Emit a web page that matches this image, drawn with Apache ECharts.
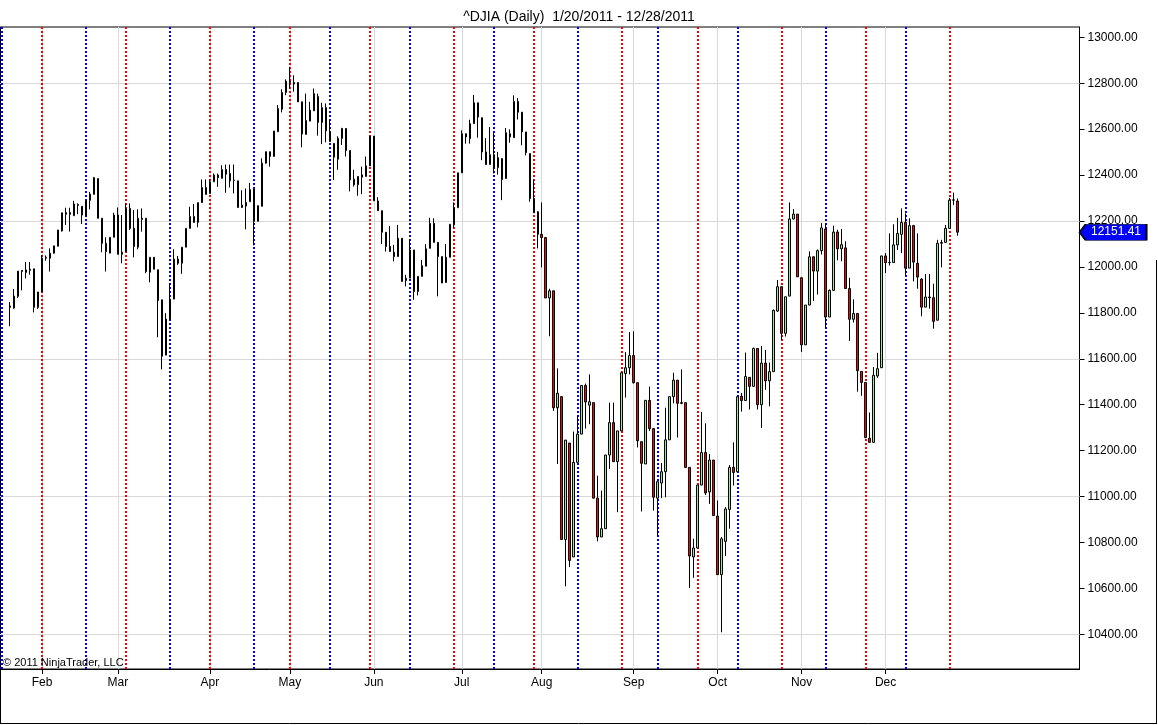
<!DOCTYPE html>
<html><head><meta charset="utf-8">
<script src="https://cdn.jsdelivr.net/npm/echarts@6/dist/echarts.min.js"></script>
<style>html,body{margin:0;padding:0;background:#fff}#c{width:1158px;height:725px}</style>
</head><body><div id="c"></div>
<script>
// Trading days of 2011 shown on the chart (day of month, per month)
const janDays=[20,21,24,25,26,27,28,31];
const febDays=[1,2,3,4,7,8,9,10,11,14,15,16,17,18,22,23,24,25,28];
const marDays=[1,2,3,4,7,8,9,10,11,14,15,16,17,18,21,22,23,24,25,28,29,30,31];
const aprDays=[1,4,5,6,7,8,11,12,13,14,15,18,19,20,21,25,26,27,28,29];
const mayDays=[2,3,4,5,6,9,10,11,12,13,16,17,18,19,20,23,24,25,26,27,31];
const junDays=[1,2,3,6,7,8,9,10,13,14,15,16,17,20,21,22,23,24,27,28,29,30];
const julDays=[1,5,6,7,8,11,12,13,14,15,18,19,20,21,22,25,26,27,28,29];
const augDays=[1,2,3,4,5,8,9,10,11,12,15,16,17,18,19,22,23,24,25,26,29,30,31];
const sepDays=[1,2,6,7,8,9,12,13,14,15,16,19,20,21,22,23,26,27,28,29,30];
const octDays=[3,4,5,6,7,10,11,12,13,14,17,18,19,20,21,24,25,26,27,28,31];
const novDays=[1,2,3,4,7,8,9,10,11,14,15,16,17,18,21,22,23,25,28,29,30];
const decDays=[1,2,5,6,7,8,9,12,13,14,15,16,19,20,21,22,23,27,28];
const monthNames=['Jan','Feb','Mar','Apr','May','Jun','Jul','Aug','Sep','Oct','Nov','Dec'];

const opens=[11830,11821,11872,11980,11976,11985,11992,11824,11891,12038,
12038,12060,12090,12157,12229,12229,12223,12268,12264,12219,
12290,12316,12385,12212,12103,12060,12129,12226,12055,12067,
12255,12168,12086,12212,12212,11977,12042,11988,11857,11616,
11773,11860,12034,12016,12086,12168,12220,12194,12280,12346,
12320,12371,12400,12386,12424,12407,12377,12375,12269,12265,
12284,12340,12199,12264,12452,12502,12481,12589,12687,12760,
12809,12803,12803,12719,12577,12635,12680,12742,12629,12694,
12590,12538,12469,12560,12603,12507,12382,12358,12391,12394,
12440,12570,12287,12245,12151,12089,12064,12045,12125,11941,
11951,12074,11893,11959,12003,12081,12190,12107,12045,11932,
12042,12183,12258,12410,12580,12559,12624,12715,12650,12501,
12446,12489,12433,12472,12385,12580,12563,12721,12674,12588,
12494,12298,12240,12142,12128,11865,11896,11387,11435,10813,
11233,10737,11149,11272,11484,11398,11409,10993,10824,10860,
11181,11322,11152,11286,11536,11561,11614,11496,11239,11142,
11419,11296,10993,11059,11108,11247,11435,11507,11409,11409,
11127,10737,10776,11050,11192,11020,11159,10915,10660,10805,
10944,11127,11108,11437,11418,11519,11480,11645,11400,11581,
11504,11544,11808,11914,11711,11873,12209,12230,11953,11661,
11834,12044,11982,12071,12165,11782,11898,12152,12079,12083,
11906,11772,11797,11545,11497,11254,11236,11525,11561,12048,
12020,12019,12096,12142,12194,11995,12180,12016,11947,11825,
11869,11866,11768,12103,12107,12168,12291,12287];
const closes=[11824,11873,11982,11985,11987,11990,11824,11891,12038,12042,
12060,12092,12161,12236,12237,12237,12274,12272,12226,12290,
12317,12389,12212,12103,12067,12129,12226,12055,12064,12255,
12168,12089,12212,12207,11980,12042,11990,11854,11611,11773,
11860,12034,12016,12086,12168,12220,12194,12280,12346,12316,
12371,12400,12389,12424,12404,12375,12378,12259,12259,12281,
12337,12199,12267,12452,12502,12481,12592,12690,12760,12809,
12803,12797,12719,12579,12638,12683,12755,12629,12694,12593,
12546,12478,12560,12603,12507,12379,12358,12394,12401,12440,
12570,12288,12245,12151,12089,12067,12045,12125,11937,11951,
12074,11893,11959,12005,12079,12190,12107,12045,11930,12042,
12186,12258,12410,12580,12566,12624,12715,12653,12501,12446,
12489,12433,12476,12381,12585,12566,12721,12674,12588,12498,
12298,12236,12142,12128,11865,11896,11387,11450,10813,11246,
10722,11149,11272,11484,11412,11413,10993,10824,10860,11181,
11322,11152,11286,11539,11561,11614,11496,11243,11145,11419,
11296,10997,11065,11108,11247,11435,11507,11406,11406,11127,
10741,10776,11050,11192,11016,11159,10917,10660,10816,10946,
11127,11105,11435,11418,11523,11480,11645,11400,11581,11504,
11544,11811,11914,11711,11870,12209,12230,11957,11661,11834,
12044,11982,12071,12170,11782,11898,12152,12079,12097,11906,
11772,11797,11548,11497,11257,11236,11528,11557,12048,12019,
12019,12096,12146,12194,11995,12180,12021,11956,11825,11869,
11866,11763,12103,12106,12168,12291,12292,12151.41];
const lows=[11742,11818,11865,11898,11950,11966,11802,11817,11891,12027,
11980,12058,12090,12154,12183,12154,12223,12230,12187,12219,
12251,12316,12212,12064,11980,12060,12129,12055,12016,12067,
12161,12042,12077,12154,11973,11933,11990,11694,11554,11616,
11770,11860,12009,11970,12086,12168,12194,12173,12280,12316,
12320,12371,12349,12386,12323,12346,12320,12259,12259,12164,
12284,12094,12199,12264,12450,12437,12481,12589,12673,12748,
12777,12763,12719,12521,12577,12635,12680,12572,12535,12543,
12546,12379,12423,12531,12481,12329,12350,12310,12317,12394,
12440,12288,12245,12100,12067,12067,12024,12045,11937,11915,
11951,11857,11876,11959,12003,12081,12107,11872,11930,11932,
12042,12171,12258,12410,12537,12537,12624,12563,12465,12446,
12446,12407,12402,12291,12385,12541,12563,12642,12530,12486,
12284,12236,12081,11998,11865,11698,11373,11142,10813,10609,
10693,10737,11149,11272,11296,11315,10993,10805,10824,10860,
11120,11152,10932,11286,11431,11532,11492,11214,10935,11142,
11286,10939,10828,10993,10997,11247,11406,11257,11402,11124,
10602,10646,10776,11050,11007,10968,10917,10660,10409,10741,
10860,11048,11108,11370,11418,11379,11480,11379,11299,11465,
11393,11544,11804,11682,11697,11873,12207,11957,11630,11661,
11834,11852,11880,12054,11736,11782,11898,12029,12025,11906,
11678,11758,11457,11439,11254,11236,11236,11517,11561,11973,
12006,12019,12074,12060,11963,11995,11937,11905,11785,11825,
11818,11731,11768,11998,12107,12168,12269,12136];
const highs=[11847,11904,11982,11985,12022,12022,11992,11891,12052,12050,
12081,12092,12161,12236,12258,12258,12288,12277,12264,12290,
12327,12392,12385,12212,12129,12129,12236,12259,12226,12277,
12277,12248,12251,12255,12212,12042,12042,11988,11857,11799,
11930,12077,12048,12086,12168,12262,12274,12280,12381,12381,
12381,12407,12407,12443,12446,12446,12446,12375,12334,12342,
12366,12340,12267,12473,12502,12502,12592,12705,12774,12817,
12871,12835,12803,12719,12755,12719,12777,12755,12715,12712,
12640,12538,12569,12606,12603,12507,12423,12394,12437,12481,
12570,12570,12304,12245,12151,12178,12096,12183,12125,11966,
12122,12074,11959,12031,12099,12214,12212,12107,12045,12099,
12186,12281,12410,12595,12582,12641,12749,12715,12650,12561,
12609,12583,12501,12472,12605,12599,12747,12735,12674,12588,
12494,12381,12243,12281,12128,11905,11896,11558,11435,11246,
11233,11283,11354,11484,11492,11532,11409,11091,11026,11181,
11409,11409,11286,11539,11629,11716,11720,11496,11239,11419,
11479,11296,11065,11146,11387,11435,11539,11507,11554,11409,
11127,10816,11050,11369,11319,11185,11159,10983,10824,10954,
11137,11236,11435,11451,11627,11519,11649,11645,11656,11639,
11584,11815,11943,11914,11870,12281,12252,12230,11953,11834,
12068,12046,12076,12191,12191,11902,12180,12162,12165,12112,
11953,11859,11797,11545,11497,11366,11564,11626,12048,12060,
12146,12186,12214,12255,12233,12212,12183,12146,11951,11969,
11969,11927,12118,12118,12183,12301,12324,12298];

// Cycle marker lines (bar index; -2 = two bars before the first bar)
const redCycleBars=[8,29,50,70,90,111,131,153,172,193,214,235];
const blueCycleBars=[-2,19,40,61,80,100,121,142,162,182,204,224];
const priceTicks=[10400,10600,10800,11000,11200,11400,11600,11800,12000,12200,12400,12600,12800,13000];
const priceGridValues=[10400,11000,11600,12200,12800];

const FONT='"Liberation Sans", Arial, sans-serif';
const monthDays=[janDays,febDays,marDays,aprDays,mayDays,junDays,julDays,augDays,sepDays,octDays,novDays,decDays];
const dates=[]; const monthStarts=[];
monthDays.forEach((days,m)=>{days.forEach((d,k)=>{
  if(k===0 && m>0) monthStarts.push({idx:dates.length,label:monthNames[m]});
  dates.push((m+1)+'/'+d+'/2011');
});});
const LEAD=2, TRAIL=30;
const cats=[];
for(let k=LEAD;k>0;k--) cats.push('lead'+k);
dates.forEach(d=>cats.push(d));
for(let k=1;k<=TRAIL;k++) cats.push('trail'+k);
const ohlc=[];
for(let k=0;k<LEAD;k++) ohlc.push(['-','-','-','-']);
dates.forEach((_,i)=>ohlc.push([opens[i],closes[i],lows[i],highs[i]]));
const startCat=new Map(monthStarts.map(s=>[s.idx+LEAD,s.label]));
const lastPrice=closes[closes.length-1];

const chart=echarts.init(document.getElementById('c'),null,{renderer:'canvas'});
chart.setOption({
  animation:false,
  textStyle:{fontFamily:FONT},
  title:{text:'^DJIA (Daily)  1/20/2011 - 12/28/2011',left:'center',top:5,
    textStyle:{fontFamily:FONT,fontSize:14,fontWeight:'normal',color:'#000'}},
  grid:{left:-0.5,right:78.5,top:27,bottom:56,show:true,borderColor:'#000',borderWidth:1,backgroundColor:'transparent'},
  xAxis:{type:'category',data:cats,boundaryGap:true,
    axisLine:{show:true,lineStyle:{color:'#000',width:1}},
    axisTick:{show:true,interval:(i)=>startCat.has(i),alignWithLabel:true,length:5,lineStyle:{color:'#000'}},
    axisLabel:{interval:(i)=>startCat.has(i),formatter:(v,i)=>startCat.get(i)||'',color:'#000',fontSize:12,margin:8,fontFamily:FONT},
    splitLine:{show:false}},
  yAxis:{type:'value',position:'right',min:10249,max:13045,scale:true,
    axisLine:{show:true,lineStyle:{color:'#000',width:1}},
    axisTick:{show:true,customValues:priceTicks,length:5,lineStyle:{color:'#000'}},
    axisLabel:{customValues:priceTicks,formatter:v=>Number(v).toFixed(2),color:'#000',fontSize:12,margin:8,fontFamily:FONT},
    splitLine:{show:false}},
  graphic:[
    {type:'line',shape:{x1:0.5,y1:27,x2:0.5,y2:724},style:{stroke:'#000',lineWidth:1},silent:true},
    {type:'line',shape:{x1:0,y1:723.5,x2:1157,y2:723.5},style:{stroke:'#000',lineWidth:1},silent:true},
    {type:'line',shape:{x1:1156.5,y1:260,x2:1156.5,y2:724},style:{stroke:'#000',lineWidth:1},silent:true},
    {type:'text',left:3,top:657,style:{text:'\u00a9 2011 NinjaTrader, LLC',font:'11px '+FONT,fill:'#000'},silent:true,z:10}
  ],
  series:[
    {type:'line',data:[],silent:true,z:1,
      markLine:{silent:true,z:1,symbol:['none','none'],label:{show:false},animation:false,
        lineStyle:{color:'#d9d9d9',width:1,type:'solid'},
        data:[...monthStarts.map(s=>({xAxis:s.idx+LEAD})),...priceGridValues.map(v=>({yAxis:v}))]}},
    {type:'line',data:[],silent:true,z:2,
      markLine:{silent:true,z:2,symbol:['none','none'],label:{show:false},animation:false,
        data:[...redCycleBars.map(b=>({xAxis:b+LEAD,lineStyle:{color:'#ff0000',width:2,type:[2,2]}})),
              ...blueCycleBars.map(b=>({xAxis:b+LEAD,lineStyle:{color:'#0000ff',width:2,type:[2,2]}}))]}},
    {type:'candlestick',data:ohlc,barWidth:2,z:3,clip:false,
      itemStyle:{color:'#90ee90',color0:'#ff0000',borderColor:'#000',borderColor0:'#000',borderColorDoji:'#000',borderWidth:1},
      markPoint:{silent:true,z:10,animation:false,
        symbol:'path://M0,8L6,0L67,0L67,16L6,16Z',symbolSize:[67,16],symbolOffset:[35.5,0],
        itemStyle:{color:'#0000ff',borderColor:'#000',borderWidth:1},
        label:{show:true,position:'inside',offset:[3,0],color:'#fff',fontSize:12,fontFamily:FONT,formatter:()=>lastPrice.toFixed(2)},
        data:[{coord:[cats.length-1,lastPrice],value:lastPrice}]}}
  ]
});
</script></body></html>
